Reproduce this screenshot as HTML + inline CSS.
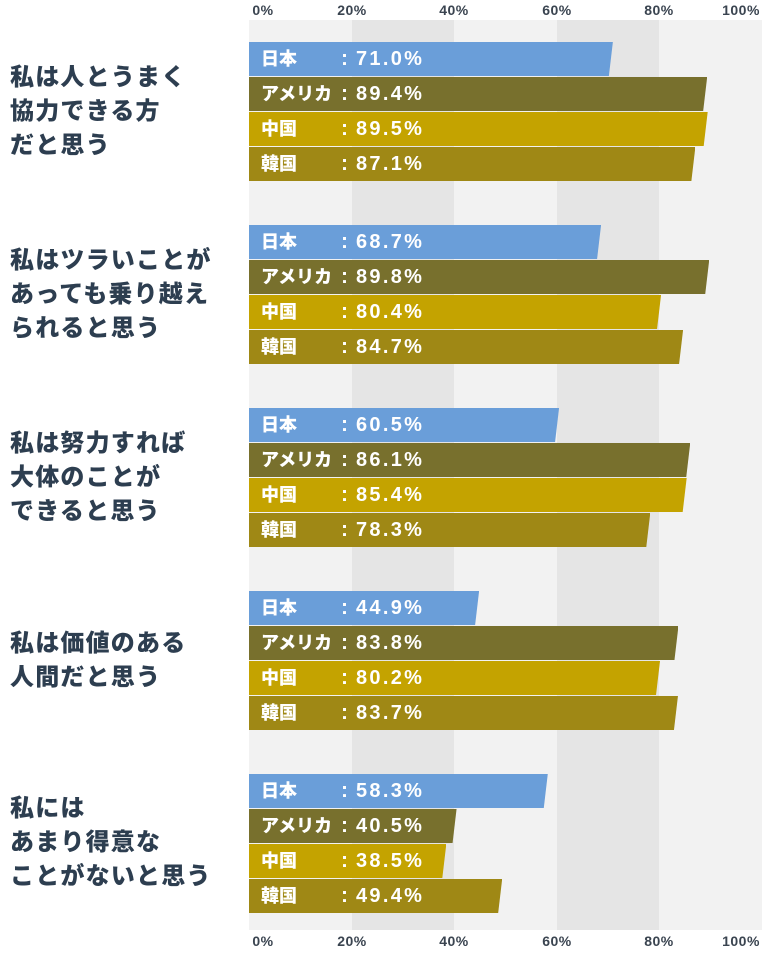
<!DOCTYPE html>
<html><head><meta charset="utf-8"><style>
body{margin:0;width:768px;height:954px;background:#fff;position:relative;overflow:hidden;font-family:"Liberation Sans","Noto Sans CJK JP",sans-serif;font-weight:900}
.band{position:absolute;top:20px;height:910px;width:102.5px}
.ax{position:absolute;font-size:14px;color:#3a4450;transform:translateX(-50%);letter-spacing:0.5px}
.bar{position:absolute;left:249px;height:34px;color:#fff;font-size:18px;line-height:34px;clip-path:polygon(0 0,100% 0,calc(100% - 4px) 100%,0 100%)}
.bar .n{position:absolute;left:12px;top:-1px;font-family:"Noto Sans CJK JP",sans-serif}
.bar .v{position:absolute;left:107px;letter-spacing:2.3px;font-size:20px}
.bar .k{position:absolute;left:92px;font-size:21px}
.q{position:absolute;left:10px;font-size:24px;line-height:34px;color:#2d3e50;letter-spacing:1.2px;font-family:"Noto Sans CJK JP",sans-serif}
</style></head><body>
<div class="band" style="left:249px;background:#f2f2f2"></div>
<div class="band" style="left:351.5px;background:#e5e5e5"></div>
<div class="band" style="left:454px;background:#f2f2f2"></div>
<div class="band" style="left:556.5px;background:#e5e5e5"></div>
<div class="band" style="left:659px;background:#f2f2f2"></div>
<div class="ax" style="left:263px;top:2px">0%</div>
<div class="ax" style="left:352px;top:2px">20%</div>
<div class="ax" style="left:454px;top:2px">40%</div>
<div class="ax" style="left:557px;top:2px">60%</div>
<div class="ax" style="left:659px;top:2px">80%</div>
<div class="ax" style="left:741px;top:2px">100%</div>
<div class="ax" style="left:263px;top:933px">0%</div>
<div class="ax" style="left:352px;top:933px">20%</div>
<div class="ax" style="left:454px;top:933px">40%</div>
<div class="ax" style="left:557px;top:933px">60%</div>
<div class="ax" style="left:659px;top:933px">80%</div>
<div class="ax" style="left:741px;top:933px">100%</div>
<div id="bars"></div>
<div class="q" style="top:58px">私は人とうまく<br>協力できる方<br>だと思う</div>
<div class="q" style="top:241px">私はツラいことが<br>あっても乗り越え<br>られると思う</div>
<div class="q" style="top:424px">私は努力すれば<br>大体のことが<br>できると思う</div>
<div class="q" style="top:624px">私は価値のある<br>人間だと思う</div>
<div class="q" style="top:789px">私には<br>あまり得意な<br>ことがないと思う</div>
<script>
var d=[[71.0,89.4,89.5,87.1],[68.7,89.8,80.4,84.7],[60.5,86.1,85.4,78.3],[44.9,83.8,80.2,83.7],[58.3,40.5,38.5,49.4]];
var c=["#6a9ed9","#78702d","#c4a300","#9f8815"],n=["日本","アメリカ","中国","韓国"],h="";
for(var g=0;g<5;g++)for(var i=0;i<4;i++){var y=42+g*183+i*35,w=d[g][i]*5.125;
h+='<div class="bar" style="top:'+y+'px;width:'+w+'px;background:'+c[i]+'"><span class="n">'+n[i]+'</span><span class="k">:</span><span class="v">'+d[g][i].toFixed(1)+'%</span></div>';}
document.getElementById("bars").innerHTML=h;
</script>
</body></html>
